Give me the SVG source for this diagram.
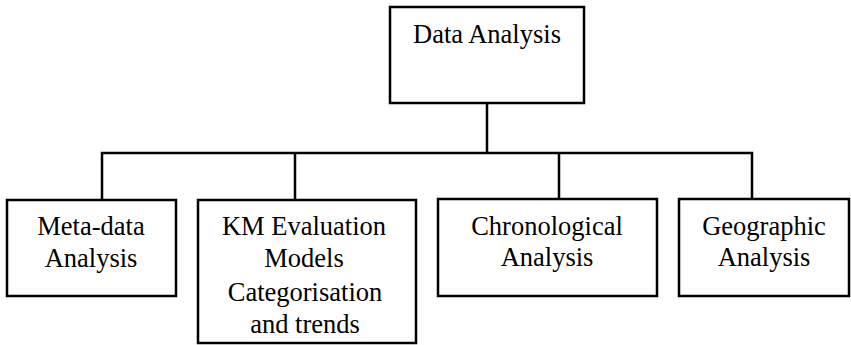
<svg xmlns="http://www.w3.org/2000/svg" width="851" height="345" viewBox="0 0 851 345">
<style>
.box{fill:#fff;stroke:#000;stroke-width:2.5}
.ln{fill:none;stroke:#000;stroke-width:2.5}
text{font-family:"Liberation Serif","Times New Roman",serif;font-size:26.5px;fill:#000;text-anchor:middle}
</style>
<rect width="851" height="345" fill="#fff"/>
<g id="connectors">
<path class="ln" d="M487,103 V153"/>
<path class="ln" d="M102,200 V153 H752 V200"/>
<path class="ln" d="M295,153 V200"/>
<path class="ln" d="M559,153 V199"/>
</g>
<g id="data-analysis">
<rect class="box" x="390" y="7" width="194" height="96"/>
<text x="487" y="43">Data Analysis</text>
</g>
<g id="meta-data">
<rect class="box" x="7" y="200" width="169" height="96"/>
<text x="91" y="235">Meta-data</text>
<text x="91" y="267">Analysis</text>
</g>
<g id="km-evaluation">
<rect class="box" x="198" y="200" width="218" height="143"/>
<text x="304" y="235">KM Evaluation</text>
<text x="304" y="267">Models</text>
<text x="305" y="301">Categorisation</text>
<text x="305" y="333">and trends</text>
</g>
<g id="chronological">
<rect class="box" x="438" y="199" width="219" height="97"/>
<text x="547" y="235">Chronological</text>
<text x="547" y="266">Analysis</text>
</g>
<g id="geographic">
<rect class="box" x="679" y="199" width="170" height="97"/>
<text x="764" y="235">Geographic</text>
<text x="764" y="266">Analysis</text>
</g>
</svg>
